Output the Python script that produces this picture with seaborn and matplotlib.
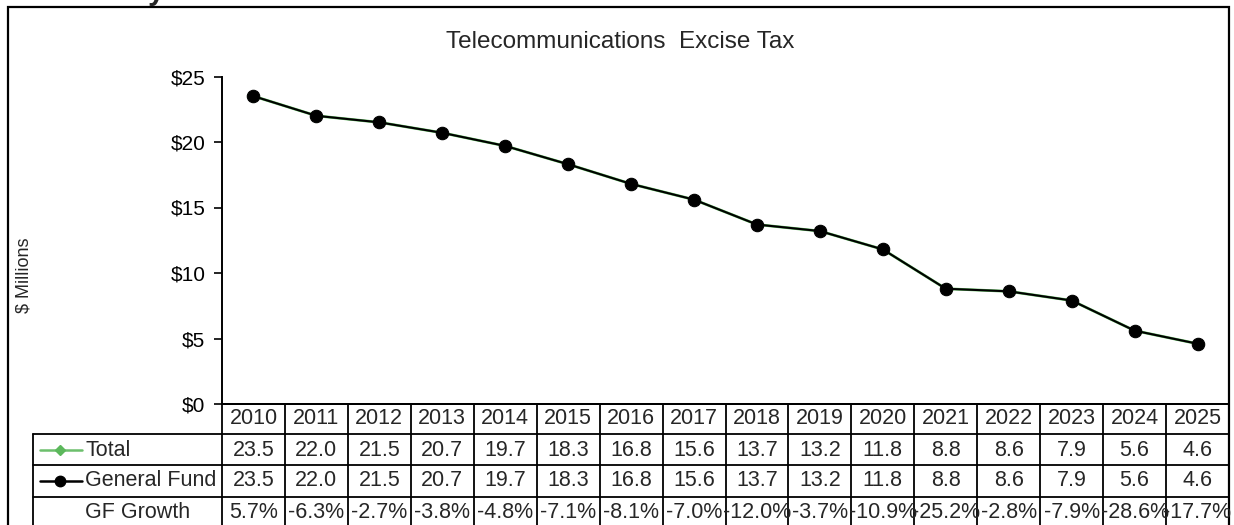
import numpy as np
import pandas as pd
import matplotlib.pyplot as plt
import matplotlib.transforms as mtransforms
from matplotlib.lines import Line2D
from matplotlib.patches import Rectangle
import seaborn as sns

# ==============================================================
# DADOS
# ==============================================================
anos = [2010, 2011, 2012, 2013, 2014, 2015, 2016, 2017,
        2018, 2019, 2020, 2021, 2022, 2023, 2024, 2025]
total = [23.5, 22.0, 21.5, 20.7, 19.7, 18.3, 16.8, 15.6,
         13.7, 13.2, 11.8, 8.8, 8.6, 7.9, 5.6, 4.6]
fundo_geral = [23.5, 22.0, 21.5, 20.7, 19.7, 18.3, 16.8, 15.6,
               13.7, 13.2, 11.8, 8.8, 8.6, 7.9, 5.6, 4.6]
crescimento_gf = [5.7, -6.3, -2.7, -3.8, -4.8, -7.1, -8.1, -7.0,
                  -12.0, -3.7, -10.9, -25.2, -2.8, -7.9, -28.6, -17.7]
rotulos_linhas = ['Total', 'General Fund', 'GF Growth']
titulo = 'Telecommunications  Excise Tax'
yticks = [0, 5, 10, 15, 20, 25]

df = pd.DataFrame({'pos': range(len(anos)), 'Total': total, 'General Fund': fundo_geral})

# ==============================================================
# FIGURA
# ==============================================================
sns.set_style('white')
plt.rcParams['font.family'] = ['Liberation Sans', 'DejaVu Sans']

W, H = 1234, 525
fig = plt.figure(figsize=(W / 100, H / 100), dpi=100)

def fx(px):
    return px / W

def fy(py):
    return 1 - py / H

ax_left, ax_right, ax_top, ax_bot = 222, 1229, 76.5, 404
ax = fig.add_axes([fx(ax_left), fy(ax_bot), fx(ax_right - ax_left), (ax_bot - ax_top) / H])

sns.lineplot(data=df, x='pos', y='Total', ax=ax, color='#5cb85c', marker='D',
             markersize=6, linewidth=2, markeredgecolor='#5cb85c')
sns.lineplot(data=df, x='pos', y='General Fund', ax=ax, color='black', marker='o',
             markersize=9, linewidth=1.5, markeredgecolor='black')

ax.set_xlim(-0.5, len(anos) - 0.5)
ax.set_ylim(0, 25)
ax.set_yticks(yticks)
ax.set_yticklabels([f'${v}' for v in yticks], fontsize=15)
ax.set_xticks([])
ax.set_xlabel('')
ax.set_ylabel('')
for lado in ['top', 'right']:
    ax.spines[lado].set_visible(False)
for lado in ['left', 'bottom']:
    ax.spines[lado].set_linewidth(1.4)
    ax.spines[lado].set_color('black')
ax.tick_params(axis='y', direction='out', length=6, width=1.2, left=True, pad=6, colors='black')
ax.patch.set_alpha(0)

fig.text(fx(620), fy(42), titulo, ha='center', va='center', fontsize=17.5)
fig.text(fx(24), fy(275), '$ Millions', rotation=90, ha='center', va='center', fontsize=13)
# fragmento do cabeçalho do documento, cortado no topo
fig.text(fx(148), fy(-1), 'y', ha='left', va='baseline', fontsize=22, fontweight='bold')

# borda externa
fig.patches.append(Rectangle((fx(8), fy(540)), fx(1221), (540 - 7) / H,
                             transform=fig.transFigure, fill=False,
                             edgecolor='black', linewidth=1.6))

# ==============================================================
# TABELA DE DADOS
# ==============================================================
trans = mtransforms.blended_transform_factory(ax.transData, fig.transFigure)
lw = 1.3
linhas_y = [404, 434, 465, 497]
fundo_tab = 540

# linhas verticais das colunas
for i in range(len(anos) + 1):
    x = i - 0.5
    fig.add_artist(Line2D([x, x], [fy(404), fy(fundo_tab)], transform=trans,
                          color='black', linewidth=lw))
# linhas horizontais
for j, yy in enumerate(linhas_y):
    x0 = fx(ax_left) if j == 0 else fx(33)
    fig.add_artist(Line2D([x0, fx(1229)], [fy(yy), fy(yy)], transform=fig.transFigure,
                          color='black', linewidth=lw))
fig.add_artist(Line2D([fx(33), fx(33)], [fy(434), fy(fundo_tab)],
                      transform=fig.transFigure, color='black', linewidth=lw))

centros = [419, 450, 481, 512]
fs = 15.5
for i, ano in enumerate(anos):
    fig.text(i, fy(centros[0]), str(ano), transform=trans, ha='center', va='center', fontsize=fs)
    fig.text(i, fy(centros[1]), f'{total[i]:.1f}', transform=trans, ha='center', va='center', fontsize=fs)
    fig.text(i, fy(centros[2]), f'{fundo_geral[i]:.1f}', transform=trans, ha='center', va='center', fontsize=fs)
    fig.text(i, fy(centros[3]), f'{crescimento_gf[i]:.1f}%', transform=trans, ha='center', va='center', fontsize=fs)

# rótulos das linhas com chaves de legenda
fig.add_artist(Line2D([fx(40), fx(82)], [fy(450), fy(450)], transform=fig.transFigure,
                      color='#6cbf6c', linewidth=1.8))
fig.add_artist(Line2D([fx(60)], [fy(450)], transform=fig.transFigure, color='#5cb85c',
                      marker='D', markersize=5.5, linestyle='none'))
fig.add_artist(Line2D([fx(40), fx(82)], [fy(481), fy(481)], transform=fig.transFigure,
                      color='black', linewidth=1.8))
fig.add_artist(Line2D([fx(60)], [fy(481)], transform=fig.transFigure, color='black',
                      marker='o', markersize=7.5, linestyle='none'))
for k, rot in enumerate(rotulos_linhas):
    fig.text(fx(85), fy(centros[k + 1]), rot, ha='left', va='center', fontsize=fs)

plt.savefig('out.png', dpi=100)
